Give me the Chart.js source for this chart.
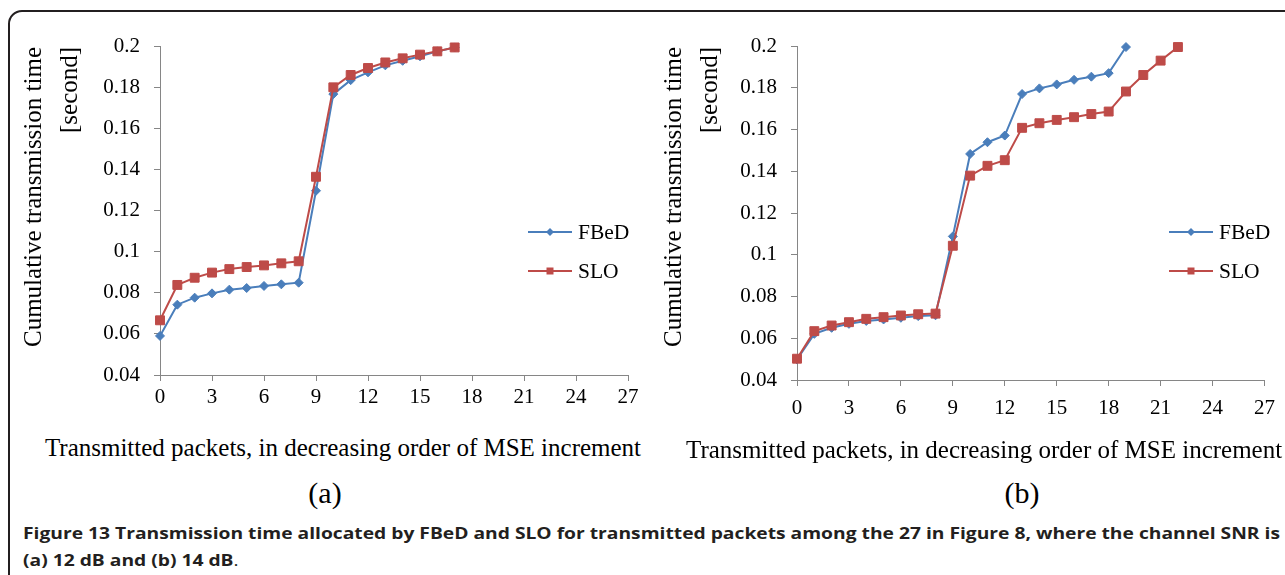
<!DOCTYPE html>
<html>
<head>
<meta charset="utf-8">
<script src="https://cdn.jsdelivr.net/npm/chart.js@4.4.1/dist/chart.umd.min.js"></script>
<style>
    html, body { margin: 0; padding: 0; background: #fff; }
    body { width: 1285px; height: 575px; position: relative; overflow: hidden; font-family: "Liberation Serif", "Times New Roman", serif; color: #000; }
    .frame { position: absolute; left: 8px; top: 10px; width: 1400px; height: 700px; border: 2px solid #231f20; border-radius: 14px; }
    canvas { position: absolute; top: 0; }
    #chartA { left: 0; }
    #chartB { left: 640px; }
    .ytitle { position: absolute; top: 47px; height: 330px; width: 72px; writing-mode: vertical-rl; transform: rotate(180deg); text-align: end; font-size: 25px; line-height: 36px; white-space: nowrap; }
    .xtitle { position: absolute; font-size: 25px; line-height: 28px; text-align: center; white-space: nowrap; }
    .panel { position: absolute; font-size: 30px; line-height: 34px; text-align: center; }
    .caption { position: absolute; left: 23px; width: 2000px; transform-origin: 0 50%; font-family: "Open Sans", "Noto Sans", sans-serif; font-size: 16px; line-height: 20px; color: #231f20; font-weight: 700; white-space: nowrap; }
    .caption span { display: inline-block; }
    .caption .plain { font-weight: 400; display: inline; }
</style>
</head>
<body>
<div class="frame"></div>
<canvas id="chartA" width="660" height="430"></canvas>
<canvas id="chartB" width="645" height="430"></canvas>

<div class="ytitle" style="left:15px">Cumulative transmission time<br>[second]</div>
<div class="ytitle" style="left:655px">Cumulative transmission time<br>[second]</div>
<div class="xtitle" style="left:0; width:686px; top:434px">Transmitted packets, in decreasing order of MSE increment</div>
<div class="xtitle" style="left:686px; width:594px; top:436px">Transmitted packets, in decreasing order of MSE increment</div>
<div class="panel" style="left:285px; width:80px; top:476px">(a)</div>
<div class="panel" style="left:982px; width:80px; top:476px">(b)</div>

<div class="caption" id="cap1" style="top:523px"><span>Figure 13 Transmission time allocated by FBeD and SLO for transmitted packets among the 27 in Figure 8, where the channel SNR is</span></div>
<div class="caption" id="cap2" style="top:550px"><span>(a) 12 dB and (b) 14 dB<span class="plain">.</span></span></div>

<script>
// packet index (x) and cumulative time (y)
const packetsA = [0, 1, 2, 3, 4, 5, 6, 7, 8, 9, 10, 11, 12, 13, 14, 15, 16, 17];
const fbedA = [0.0590, 0.0742, 0.0776, 0.0797, 0.0815, 0.0823, 0.0833, 0.0841, 0.0849,
    0.1296, 0.1766, 0.1834, 0.1872, 0.1906, 0.1928, 0.1950, 0.1974, 0.1993];
const sloA = [0.0666, 0.0838, 0.0873, 0.0898, 0.0915, 0.0925, 0.0933, 0.0943, 0.0953,
    0.1364, 0.1799, 0.1859, 0.1893, 0.1920, 0.1940, 0.1958, 0.1974, 0.1993];

const packetsFbedB = [0, 1, 2, 3, 4, 5, 6, 7, 8, 9, 10, 11, 12, 13, 14, 15, 16, 17, 18, 19];
const fbedB = [0.0498, 0.0621, 0.0650, 0.0669, 0.0683, 0.0690, 0.0698, 0.0706, 0.0710,
    0.1088, 0.1483, 0.1539, 0.1571, 0.1770, 0.1797, 0.1816, 0.1838, 0.1853, 0.1870, 0.1995];
const packetsSloB = [0, 1, 2, 3, 4, 5, 6, 7, 8, 9, 10, 11, 12, 13, 14, 15, 16, 17, 18, 19, 20, 21, 22];
const sloB = [0.0502, 0.0634, 0.0661, 0.0677, 0.0693, 0.0701, 0.0709, 0.0715, 0.0718,
    0.1043, 0.1379, 0.1426, 0.1453, 0.1608, 0.1630, 0.1646, 0.1659, 0.1674, 0.1686,
    0.1782, 0.1861, 0.1930, 0.1995];

const seriesNames = ['FBeD', 'SLO'];
const xTicks = { min: 0, max: 27, step: 3 };
const yTicks = { min: 0.04, max: 0.2, step: 0.02 };

const BLUE = '#4A7EBB';
const RED = '#BE4B48';
const AXIS = '#868686';
const SERIF = '"Liberation Serif", "Times New Roman", serif';

const toPoints = (xs, ys) => xs.map((x, i) => ({ x, y: ys[i] }));

// legend drawn to the right of the plot, line with marker in the middle
const sideLegend = {
    id: 'sideLegend',
    afterDraw(chart, args, opts) {
        const ctx = chart.ctx;
        ctx.save();
        chart.data.datasets.forEach((ds, i) => {
            const y = opts.y + i * opts.gap;
            const mid = opts.x + opts.len / 2;
            ctx.strokeStyle = ds.borderColor;
            ctx.lineWidth = ds.borderWidth;
            ctx.beginPath();
            ctx.moveTo(opts.x, y);
            ctx.lineTo(opts.x + opts.len, y);
            ctx.stroke();
            ctx.fillStyle = ds.borderColor;
            ctx.beginPath();
            if (ds.pointStyle === 'rect') {
                ctx.rect(mid - 3.5, y - 3.5, 7, 7);
            } else {
                ctx.moveTo(mid, y - 4); ctx.lineTo(mid + 4, y); ctx.lineTo(mid, y + 4); ctx.lineTo(mid - 4, y);
                ctx.closePath();
            }
            ctx.fill();
            ctx.fillStyle = '#000';
            ctx.font = '21.5px ' + SERIF;
            ctx.textBaseline = 'middle';
            ctx.textAlign = 'left';
            ctx.fillText(ds.label, opts.x + opts.len + 6, y + 1);
        });
        ctx.restore();
    },
};

function makeChart(id, fbedPts, sloPts, g) {
    return new Chart(document.getElementById(id), {
        type: 'line',
        data: {
            datasets: [
                {
                    label: seriesNames[0], data: fbedPts, borderColor: BLUE, backgroundColor: BLUE,
                    borderWidth: 2, pointStyle: 'rectRot', pointRadius: 4.5, pointBorderWidth: 1,
                    pointBackgroundColor: BLUE, pointBorderColor: BLUE, order: 1, clip: false, tension: 0,
                },
                {
                    label: seriesNames[1], data: sloPts, borderColor: RED, backgroundColor: RED,
                    borderWidth: 2, pointStyle: 'rect', pointRadius: 6.3, pointBorderWidth: 1,
                    pointBackgroundColor: RED, pointBorderColor: RED, order: 0, clip: false, tension: 0,
                },
            ],
        },
        options: {
            responsive: false,
            animation: false,
            events: [],
            layout: { padding: g.padding },
            plugins: {
                legend: { display: false },
                tooltip: { enabled: false },
                sideLegend: { x: g.legendX, y: 232, gap: 39, len: 44 },
            },
            scales: {
                x: {
                    type: 'linear',
                    min: xTicks.min, max: xTicks.max,
                    afterFit: (s) => { s.height = 40; },
                    grid: { display: true, drawOnChartArea: false, drawTicks: true, tickLength: 6, color: AXIS },
                    border: { display: true, color: AXIS, width: 1 },
                    ticks: {
                        stepSize: xTicks.step, autoSkip: false, maxRotation: 0,
                        padding: g.xPad, color: '#000', font: { family: SERIF, size: 21 },
                    },
                },
                y: {
                    min: yTicks.min, max: yTicks.max,
                    afterFit: (s) => { s.width = 60; },
                    grid: { display: true, drawOnChartArea: false, drawTicks: true, tickLength: 6, color: AXIS },
                    border: { display: true, color: AXIS, width: 1 },
                    ticks: {
                        stepSize: yTicks.step, padding: 14, color: '#000', font: { family: SERIF, size: 21 },
                        callback: (v) => String(+v.toFixed(2)),
                    },
                },
            },
        },
        plugins: [sideLegend],
    });
}

makeChart('chartA', toPoints(packetsA, fbedA), toPoints(packetsA, sloA), {
    padding: { left: 100, top: 46, right: 32, bottom: 15 }, xPad: 4, legendX: 528,
});
makeChart('chartB', toPoints(packetsFbedB, fbedB), toPoints(packetsSloB, sloB), {
    padding: { left: 97, top: 46, right: 18, bottom: 10 }, xPad: 10, legendX: 529,
});

// squeeze the caption horizontally so line 1 spans the width it has in the figure
const inner1 = document.querySelector('#cap1 > span');
const sx = 1257 / inner1.getBoundingClientRect().width;
document.getElementById('cap1').style.transform = `scaleX(${sx.toFixed(4)})`;
document.getElementById('cap2').style.transform = `scaleX(${sx.toFixed(4)})`;
</script>
</body>
</html>
